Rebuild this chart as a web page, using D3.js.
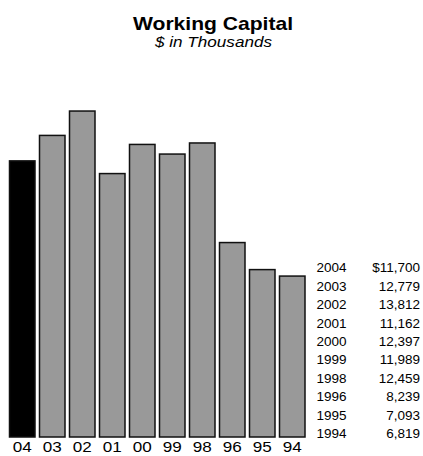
<!DOCTYPE html>
<html>
<head>
<meta charset="utf-8">
<script src="https://cdn.jsdelivr.net/npm/d3@7"></script>
<style>
  html, body { margin: 0; padding: 0; background: #fff; }
  svg { display: block; }
  text { font-family: "Liberation Sans", Arial, Helvetica, sans-serif; fill: #000; }
</style>
</head>
<body>
<div id="chart"></div>
<script>
// Working capital by fiscal year, most recent first
const years = ["2004", "2003", "2002", "2001", "2000", "1999", "1998", "1996", "1995", "1994"];
const shortLabels = ["04", "03", "02", "01", "00", "99", "98", "96", "95", "94"];
const workingCapital = [11700, 12779, 13812, 11162, 12397, 11989, 12459, 8239, 7093, 6819];
const valueLabels = ["$11,700", "12,779", "13,812", "11,162", "12,397", "11,989", "12,459", "8,239", "7,093", "6,819"];

const title = "Working Capital";
const subtitle = "$ in Thousands";

const W = 423, H = 456;
const svg = d3.select("#chart").append("svg").attr("width", W).attr("height", H);

const x = d3.scaleBand().domain(shortLabels).range([9.5, 305]).paddingInner(0.15).paddingOuter(0);
const y = d3.scaleLinear().domain([0, 14000]).range([437, 106.6]);

// Title block (slightly widened lettering)
svg.append("text")
  .attr("x", 213).attr("y", 30)
  .attr("text-anchor", "middle")
  .attr("textLength", 160).attr("lengthAdjust", "spacingAndGlyphs")
  .style("font-size", "19px").style("font-weight", "bold")
  .text(title);
svg.append("text")
  .attr("x", 213.5).attr("y", 46.5)
  .attr("text-anchor", "middle")
  .attr("textLength", 117).attr("lengthAdjust", "spacingAndGlyphs")
  .style("font-size", "14px").style("font-style", "italic")
  .text(subtitle);

// Bars: current year solid black, prior years grey with outline
svg.append("g").selectAll("rect")
  .data(workingCapital)
  .join("rect")
  .attr("x", (d, i) => x(shortLabels[i]))
  .attr("y", d => y(d))
  .attr("width", x.bandwidth())
  .attr("height", d => y(0) - y(d))
  .attr("fill", (d, i) => i === 0 ? "#000" : "#999")
  .attr("stroke", "#111")
  .attr("stroke-width", 1.5);

// Category axis (labels only)
const xAxis = svg.append("g")
  .attr("transform", `translate(0,${y(0)})`)
  .call(d3.axisBottom(x).tickSize(0).tickPadding(5));
xAxis.select(".domain").remove();
xAxis.selectAll("text")
  .style("font-size", "14px")
  .style("font-family", "\"Liberation Sans\", Arial, sans-serif")
  .attr("textLength", 19).attr("lengthAdjust", "spacingAndGlyphs")
  .attr("fill", "#000");

// Value table on the right
const rowY = d3.scalePoint().domain(years).range([272.4, 438]);
const table = svg.append("g").style("font-size", "13.5px");
table.selectAll("text.year")
  .data(years)
  .join("text")
  .attr("class", "year")
  .attr("x", 316.5)
  .attr("y", d => rowY(d))
  .text(d => d);
table.selectAll("text.val")
  .data(valueLabels)
  .join("text")
  .attr("class", "val")
  .attr("x", 420)
  .attr("y", (d, i) => rowY(years[i]))
  .attr("text-anchor", "end")
  .text(d => d);
</script>
</body>
</html>
